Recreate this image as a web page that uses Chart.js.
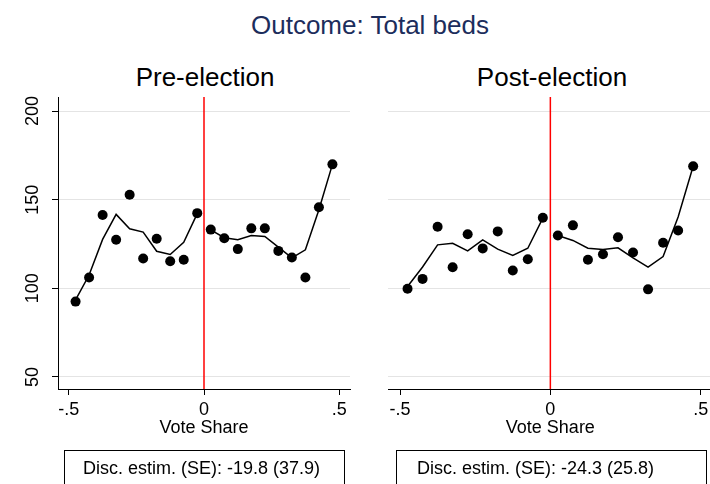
<!DOCTYPE html>
<html>
<head>
<meta charset="utf-8">
<script src="https://cdn.jsdelivr.net/npm/chart.js@4.4.1/dist/chart.umd.min.js"></script>
<style>
  html, body { margin: 0; padding: 0; width: 710px; height: 484px; overflow: hidden; background: #fff; }
  body { position: relative; font-family: "Liberation Sans", Arial, sans-serif; }
  canvas { position: absolute; top: 0; }
  .txt { position: absolute; white-space: nowrap; line-height: 26px; font-size: 26px; }
  .box { position: absolute; top: 450px; height: 60px; border: 1px solid #000; box-sizing: border-box;
         font-size: 18px; line-height: 18px; padding-top: 8px; white-space: nowrap; color: #000; }
</style>
</head>
<body>
<div class="txt" id="mainTitle" style="left:370px; top:12px; transform:translateX(-50%); color:#1c2d5c;"></div>
<div class="txt" id="preTitle" style="left:205px; top:64px; transform:translateX(-50%); color:#000;"></div>
<div class="txt" id="postTitle" style="left:552px; top:64px; transform:translateX(-50%); color:#000;"></div>
<canvas id="c1" width="360" height="484" style="left:0px;"></canvas>
<canvas id="c2" width="355" height="484" style="left:360px;"></canvas>
<div class="box" id="box1" style="left:64px; width:281px; padding-left:18px;"></div>
<div class="box" id="box2" style="left:396px; width:311px; padding-left:20px;"></div>
<script>
// ---- Data ----
const mainTitle = "Outcome: Total beds";
const panelTitles = ["Pre-election", "Post-election"];
const xTitle = "Vote Share";
const estimText = ["Disc. estim. (SE): -19.8 (37.9)", "Disc. estim. (SE): -24.3 (25.8)"];

const binX = [-0.475, -0.425, -0.375, -0.325, -0.275, -0.225, -0.175, -0.125, -0.075, -0.025,
               0.025,  0.075,  0.125,  0.175,  0.225,  0.275,  0.325,  0.375,  0.425,  0.475];

const prePoints = [92.5, 106.1, 141.3, 127.4, 152.8, 116.8, 127.9, 115.3, 116.1, 142.4,
                   133.1, 128.2, 122.1, 133.8, 133.8, 121.1, 117.4, 106.1, 145.7, 169.9];
const preFit    = [93.5, 107.5, 127.6, 141.7, 133.6, 131.7, 120.9, 119.1, 126.0, 142.1,
                   133.0, 128.5, 127.4, 129.8, 129.2, 123.2, 117.2, 121.7, 144.3, 169.9];

const postPoints = [99.7, 105.3, 134.7, 111.9, 130.5, 122.5, 132.1, 110.0, 116.4, 139.8,
                    129.8, 135.5, 116.1, 119.2, 128.8, 120.2, 99.4, 125.7, 132.6, 168.8];
const postFit    = [101.0, 112.0, 124.5, 125.4, 121.1, 127.3, 122.1, 118.6, 122.6, 139.6,
                    129.8, 127.0, 122.6, 121.9, 122.8, 117.2, 111.9, 117.9, 140.2, 168.8];

const cutoff = 0;
const yTicks = [50, 100, 150, 200];
const yTickLabels = ["50", "100", "150", "200"];
const xTicks = [-0.5, 0, 0.5];
const xTickLabels = ["-.5", "0", ".5"];
const xRange = [-0.54, 0.54];
const yRange = [43.2, 207.9];

document.getElementById('mainTitle').textContent = mainTitle;
document.getElementById('preTitle').textContent = panelTitles[0];
document.getElementById('postTitle').textContent = panelTitles[1];
document.getElementById('box1').textContent = estimText[0];
document.getElementById('box2').textContent = estimText[1];

const FONT = "'Liberation Sans', Arial, sans-serif";

const cutoffPlugin = {
  id: 'cutoffLine',
  beforeDatasetsDraw(chart) {
    const {ctx, chartArea, scales} = chart;
    const x = scales.x.getPixelForValue(cutoff);
    ctx.save();
    ctx.strokeStyle = '#ff0000';
    ctx.lineWidth = 1.5;
    ctx.beginPath();
    ctx.moveTo(x, chartArea.top);
    ctx.lineTo(x, chartArea.bottom);
    ctx.stroke();
    ctx.restore();
  }
};

function pairs(xs, ys, from, to) {
  const out = [];
  for (let i = from; i < to; i++) out.push({x: xs[i], y: ys[i]});
  return out;
}

function makeChart(id, points, fit, showY, pad) {
  const half = binX.filter(v => v < cutoff).length;
  return new Chart(document.getElementById(id), {
    type: 'scatter',
    data: {
      datasets: [
        { data: pairs(binX, points, 0, binX.length), backgroundColor: '#000', borderWidth: 0,
          pointRadius: 5, pointHoverRadius: 5 },
        { type: 'line', data: pairs(binX, fit, 0, half), borderColor: '#000', borderWidth: 1.5,
          pointRadius: 0, tension: 0, fill: false },
        { type: 'line', data: pairs(binX, fit, half, binX.length), borderColor: '#000', borderWidth: 1.5,
          pointRadius: 0, tension: 0, fill: false }
      ]
    },
    options: {
      responsive: false,
      animation: false,
      devicePixelRatio: 1,
      layout: { padding: pad, autoPadding: false },
      plugins: { legend: { display: false }, tooltip: { enabled: false }, title: { display: false } },
      scales: {
        x: {
          type: 'linear', min: xRange[0], max: xRange[1],
          afterBuildTicks: s => { s.ticks = xTicks.map(v => ({value: v})); },
          afterFit: s => { s.height = 95; s.paddingLeft = 0; s.paddingRight = 0; },
          ticks: {
            autoSkip: false, maxRotation: 0, minRotation: 0, padding: 4, color: '#000',
            font: { family: FONT, size: 18 },
            callback: (v) => xTickLabels[xTicks.indexOf(v)]
          },
          grid: { drawOnChartArea: false, drawTicks: true, tickLength: 6, tickColor: '#000', tickWidth: 1 },
          border: { display: true, color: '#000', width: 1 },
          title: { display: true, text: xTitle, color: '#000', font: { family: FONT, size: 18 },
                   padding: { top: 0, bottom: 45 } }
        },
        y: {
          type: 'linear', min: yRange[0], max: yRange[1],
          afterBuildTicks: s => { s.ticks = yTicks.map(v => ({value: v})); },
          afterFit: s => { s.width = showY ? 58 : 0; s.paddingTop = 0; s.paddingBottom = 0; },
          ticks: {
            display: showY, autoSkip: false, minRotation: 90, maxRotation: 90, crossAlign: 'center',
            padding: 3.5, color: '#000', font: { family: FONT, size: 18 },
            callback: (v) => yTickLabels[yTicks.indexOf(v)]
          },
          grid: { drawOnChartArea: true, color: '#e4e4e4', lineWidth: 1, drawTicks: showY,
                  tickLength: 6, tickColor: '#000', tickWidth: 1 },
          border: { display: showY, color: '#000', width: 1 }
        }
      }
    },
    plugins: [cutoffPlugin]
  });
}

makeChart('c1', prePoints, preFit, true, { left: 0, right: 10, top: 97, bottom: 0 });
makeChart('c2', postPoints, postFit, false, { left: 28, right: 2.3, top: 97, bottom: 0 });
</script>
</body>
</html>
